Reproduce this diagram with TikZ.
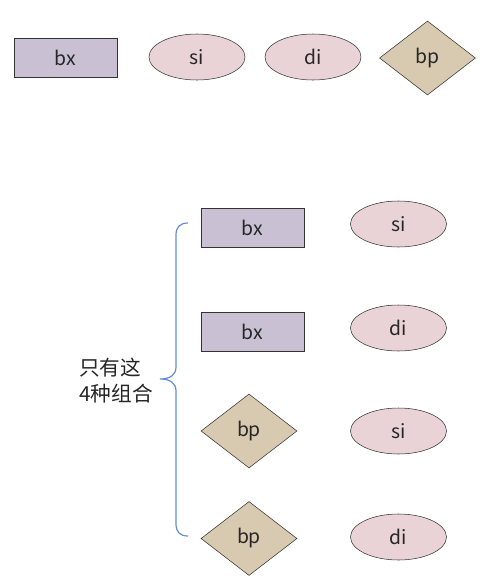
\documentclass[tikz,border=0pt]{standalone}
\usepackage{fontspec}
\setmainfont{Noto Sans CJK SC}
\usetikzlibrary{shapes.geometric}
\definecolor{rectfill}{RGB}{201,192,211}
\definecolor{ellfill}{RGB}{234,211,214}
\definecolor{diafill}{RGB}{216,202,176}
\definecolor{bracecol}{RGB}{100,140,212}
\tikzset{
  every node/.style={font=\fontsize{14.5pt}{19pt}\selectfont, text=black!85},
  rbox/.style={draw=black!80, fill=rectfill, minimum width=77.25pt, minimum height=29.5pt, inner sep=0pt},
  ebox/.style={draw=black!80, fill=ellfill, ellipse, minimum width=72pt, minimum height=34.5pt, inner sep=0pt},
  dbox/.style={draw=black!80, fill=diafill, diamond, minimum width=72pt, minimum height=55.5pt, inner sep=0pt},
}
\begin{document}
\begin{tikzpicture}[x=0.75pt,y=-0.75pt]
\useasboundingbox (0,0) rectangle (490,586);
% top row
\node[rbox] (bxA) at (65.5,57.5) {bx};
\node[ebox] (siA) at (197,57) {si};
\node[ebox] (diA) at (313,57) {di};
\node[dbox] (bpA) at (427.5,58) {bp};
% bottom combos
\node[rbox] (bx1) at (252.5,228) {bx};
\node[rbox] (bx2) at (252.5,331.5) {bx};
\node[dbox] (bp1) at (249,431) {bp};
\node[dbox] (bp2) at (249,538.5) {bp};
\node[ebox] (si1) at (398.5,224) {si};
\node[ebox] (di1) at (398.5,328) {di};
\node[ebox] (si2) at (398.5,431) {si};
\node[ebox] (di2) at (398.5,537) {di};
% brace
\coordinate (bt) at (188,223);
\coordinate (bm) at (160,379);
\coordinate (bb) at (188,536);
\draw[bracecol, line width=0.9pt] (bt) .. controls (180,223) and (176,227) .. (176,235)
  -- (176,367) .. controls (176,375) and (170,379) .. (bm)
  .. controls (170,379) and (176,383) .. (176,391)
  -- (176,524) .. controls (176,532) and (180,536) .. (bb);
\node[align=left, anchor=west, inner sep=0pt, font=\fontsize{15.5pt}{19pt}\selectfont] (lbl) at (79,380.5) {只有这\\4种组合};
\end{tikzpicture}
\end{document}
